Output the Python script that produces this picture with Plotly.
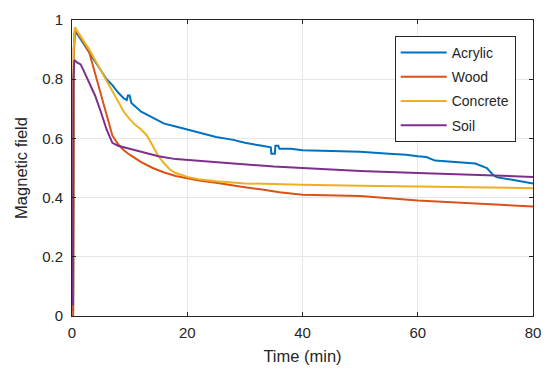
import plotly.graph_objects as go

# ---- data ----
acrylic_t = [0, 0.2, 0.35, 0.5, 1, 2, 3, 4, 5, 6, 7, 8, 9, 9.5, 9.7, 10.0, 10.3, 12, 14, 16, 18, 20,
             22, 25, 28, 30, 33, 34.5, 34.6, 35.2, 35.3, 35.8, 36, 38, 40, 45, 50, 55, 58, 60, 61.5,
             63, 66, 68, 70, 72, 72.5, 73, 73.6, 74, 76.4, 78, 80]
acrylic_y = [0.02, 0.02, 0.9, 0.96, 0.95, 0.92, 0.89, 0.86, 0.83, 0.80, 0.78, 0.755, 0.735, 0.73,
             0.745, 0.745, 0.72, 0.69, 0.67, 0.65, 0.64, 0.63, 0.62, 0.605, 0.595, 0.585, 0.575,
             0.57, 0.548, 0.548, 0.575, 0.575, 0.565, 0.565, 0.56, 0.558, 0.555, 0.548, 0.545,
             0.54, 0.537, 0.525, 0.52, 0.518, 0.515, 0.50, 0.49, 0.478, 0.47, 0.468, 0.46, 0.455,
             0.448]

wood_t = [0, 0.2, 0.3, 0.5, 1, 2, 3, 4, 5, 6, 7, 8, 9, 10, 11, 12, 14, 16, 18, 20, 22, 25, 28, 30,
          33, 36, 40, 45, 50, 55, 60, 65, 70, 75, 80]
wood_y = [0.0, 0.0, 0.9, 0.97, 0.955, 0.925, 0.89, 0.82, 0.75, 0.68, 0.61, 0.58, 0.56, 0.545, 0.532,
          0.52, 0.50, 0.485, 0.473, 0.465, 0.458, 0.45, 0.44, 0.435, 0.427, 0.418, 0.41, 0.408,
          0.405, 0.398, 0.39, 0.385, 0.38, 0.375, 0.37]

concrete_t = [0, 0.2, 0.3, 0.5, 1, 2, 3, 4, 5, 6, 7, 8, 9, 10, 11, 12, 13, 14, 15, 16, 17, 18, 20,
              22, 25, 30, 35, 40, 50, 60, 70, 80]
concrete_y = [0.07, 0.07, 0.9, 0.975, 0.96, 0.93, 0.90, 0.865, 0.83, 0.79, 0.755, 0.72, 0.69, 0.665,
              0.645, 0.63, 0.61, 0.575, 0.54, 0.515, 0.495, 0.483, 0.47, 0.462, 0.455, 0.448,
              0.445, 0.443, 0.44, 0.437, 0.435, 0.432]

soil_t = [0, 0.15, 0.25, 0.4, 1, 1.5, 2, 3, 4, 5, 6, 7, 8, 10, 12, 15, 18, 20, 25, 30, 35, 40, 50,
          60, 70, 80]
soil_y = [0.04, 0.04, 0.8, 0.865, 0.855, 0.85, 0.83, 0.79, 0.745, 0.69, 0.63, 0.585, 0.575, 0.565,
          0.555, 0.54, 0.53, 0.527, 0.52, 0.512, 0.505, 0.50, 0.49, 0.483, 0.477, 0.47]

series = [
    ("Acrylic", acrylic_t, acrylic_y, "#0072BD"),
    ("Wood", wood_t, wood_y, "#D95319"),
    ("Concrete", concrete_t, concrete_y, "#EDB120"),
    ("Soil", soil_t, soil_y, "#7E2F8E"),
]

x_ticks = [0, 20, 40, 60, 80]
y_ticks = [0, 0.2, 0.4, 0.6, 0.8, 1]
y_tick_labels = ["0", "0.2", "0.4", "0.6", "0.8", "1"]

fig = go.Figure()
for name, t, y, c in series:
    fig.add_trace(go.Scatter(x=t, y=y, mode="lines", name=name, legendgroup=name,
                             line=dict(color=c, width=2)))

font = "Liberation Sans, Arial, Helvetica, sans-serif"
axis_common = dict(showline=True, linecolor="#262626", linewidth=1, mirror="ticks",
                   ticks="inside", ticklen=4, tickcolor="#262626",
                   showgrid=True, gridcolor="#e6e6e6", gridwidth=1, zeroline=False,
                   tickfont=dict(family=font, size=15, color="#262626"))

fig.update_layout(
    width=550, height=375,
    margin=dict(l=64, r=25, t=12, b=67, autoexpand=False),
    paper_bgcolor="white", plot_bgcolor="white",
    font=dict(family=font, color="#262626"),
    xaxis=dict(range=[0, 80], tickvals=x_ticks, ticklabelstandoff=3,
               title=dict(text="Time (min)", font=dict(family=font, size=16.5, color="#262626"),
                          standoff=10),
               **axis_common),
    yaxis=dict(range=[0, 1], tickvals=y_ticks, ticktext=y_tick_labels, ticklabelstandoff=5,
               title=dict(text="Magnetic field", font=dict(family=font, size=16.5, color="#262626"),
                          standoff=10),
               **axis_common),
    legend=dict(x=0.70, y=0.946, xanchor="left", yanchor="top",
                bgcolor="white", bordercolor="#262626", borderwidth=1,
                font=dict(family=font, size=14, color="#262626"),
                tracegroupgap=3, itemwidth=46),
    showlegend=True,
)

fig.write_html("out.html")
